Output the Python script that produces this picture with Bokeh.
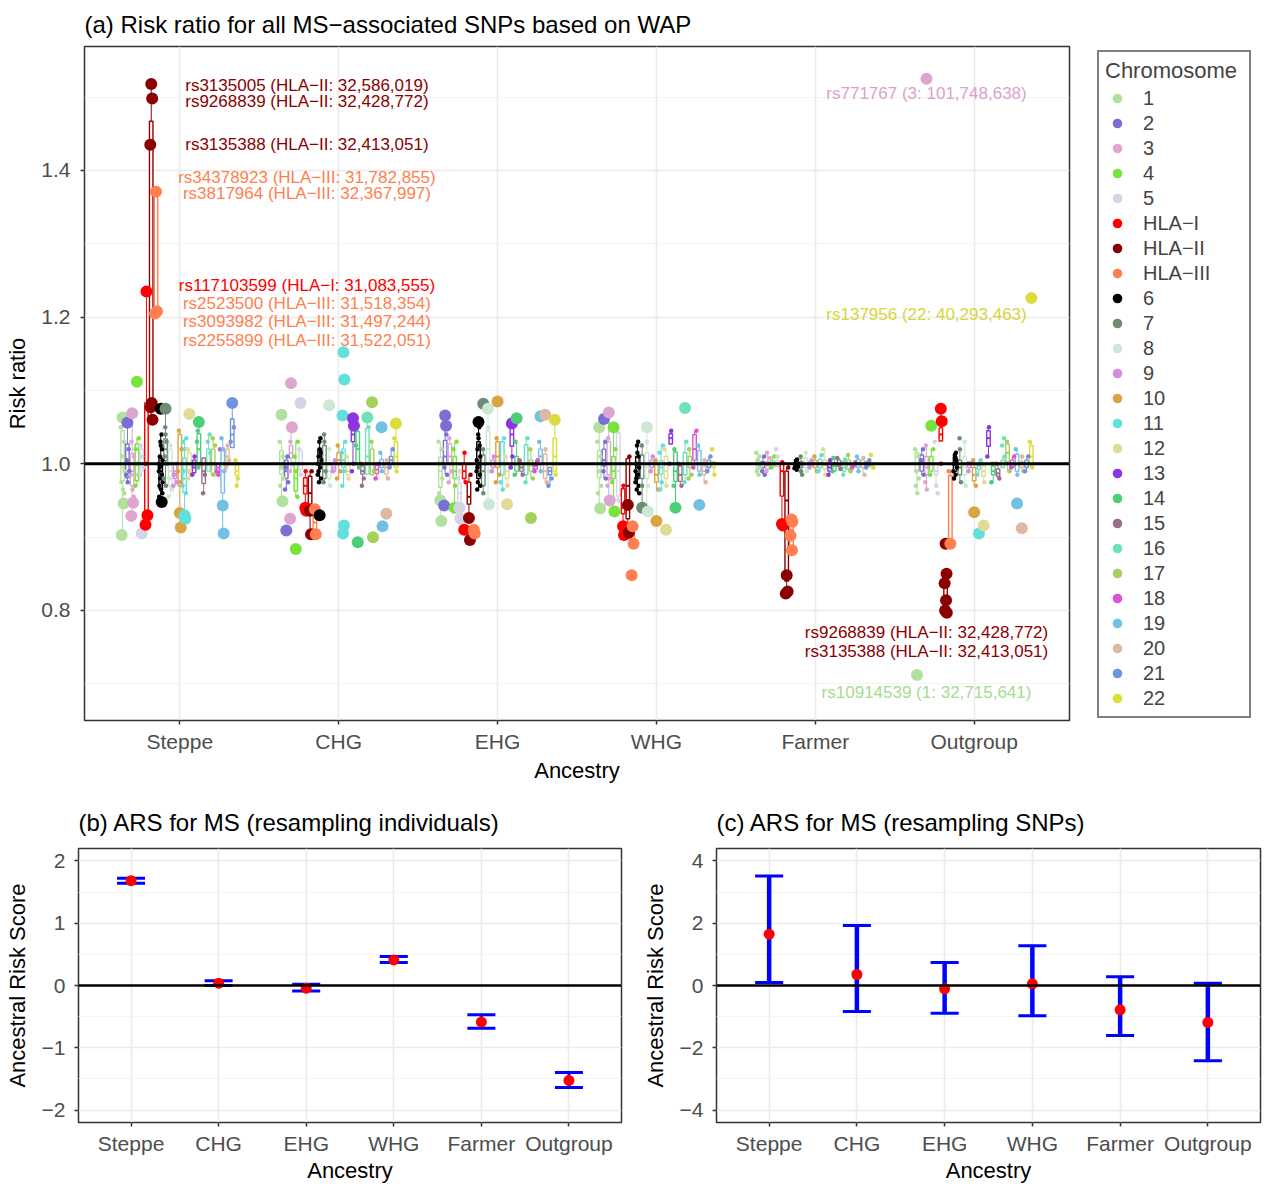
from bokeh.plotting import figure
from bokeh.models import (ColumnDataSource, Legend, LegendItem, FixedTicker,
                          Span, Range1d)
from bokeh.layouts import column, row
from bokeh.embed import file_html
from bokeh.resources import INLINE
from bokeh.core.properties import value

FONT = "Liberation Sans"

# ---------------------------------------------------------------- data
ANCESTRIES = ["Steppe", "CHG", "EHG", "WHG", "Farmer", "Outgroup"]

CHROM_GROUPS = ["1", "2", "3", "4", "5", "HLA\u2212I", "HLA\u2212II", "HLA\u2212III",
                "6", "7", "8", "9", "10", "11", "12", "13", "14", "15", "16",
                "17", "18", "19", "20", "21", "22"]

CHROM_COLORS = ["#b2e09e", "#7b6fd6", "#dda6cf", "#77e33d", "#d4d4e6",
                "#ff0000", "#8b0000", "#ff7f50", "#000000", "#6e8b76",
                "#cce8d4", "#d88be0", "#d9a441", "#63e0dc", "#e0dc98",
                "#8c35e0", "#4ccf76", "#9b6f8a", "#6ee0bb", "#a3d15a",
                "#de52d9", "#72c1e4", "#dfb8a2", "#6f94df", "#dcdc3c"]

# per-ancestry boxplot quartiles (q1, median, q3), one tuple per chromosome group
RR_BOX = {
    "Steppe": [(0.977, 0.995, 1.045), (0.981, 1.0, 1.027), (0.970, 0.99, 1.014),
               (0.977, 1.0, 1.027), (0.99, 1.0, 1.02), (0.933, 1.0, 1.083),
               (1.075, 1.435, 1.467), (1.205, 1.21, 1.37), (0.966, 0.99, 1.008),
               (1.004, 1.02, 1.034), (0.97, 0.99, 1.02), (0.98, 0.99, 1.0),
               (0.97, 1.0, 1.04), (0.961, 0.98, 1.008), (0.987, 1.0, 1.015),
               (0.988, 0.995, 1.005), (1.001, 1.02, 1.041), (0.973, 0.99, 1.008),
               (0.99, 1.0, 1.02), (0.985, 1.0, 1.02), (0.988, 0.995, 1.0),
               (0.96, 0.99, 1.02), (0.998, 1.01, 1.02), (1.022, 1.04, 1.061),
               (0.984, 0.99, 0.998)],
    "CHG": [(0.986, 1.0, 1.018), (0.98, 0.99, 1.005), (1.008, 1.015, 1.025),
            (0.963, 0.98, 1.0), (0.992, 1.0, 1.018), (0.959, 0.97, 0.981),
            (0.945, 0.96, 0.983), (0.904, 0.92, 0.936), (0.999, 1.01, 1.02),
            (0.98, 1.0, 1.025), (0.98, 0.99, 1.0), (0.99, 0.995, 1.0),
            (1.0, 1.005, 1.015), (0.995, 1.005, 1.02), (0.985, 0.99, 0.998),
            (1.03, 1.04, 1.05), (1.0, 1.02, 1.044), (0.986, 0.99, 0.997),
            (0.986, 1.01, 1.048), (0.985, 1.0, 1.02), (0.987, 0.992, 0.998),
            (0.995, 1.0, 1.006), (0.986, 0.995, 1.0), (1.0, 1.005, 1.01),
            (0.995, 1.01, 1.03)],
    "EHG": [(0.968, 0.99, 1.009), (1.0, 1.01, 1.032), (1.0, 1.01, 1.027),
            (0.98, 0.99, 1.01), (0.94, 0.96, 0.974), (0.98, 0.99, 1.0),
            (0.945, 0.955, 0.975), (0.905, 0.907, 0.91), (0.98, 1.0, 1.03),
            (0.97, 0.99, 1.012), (1.0, 1.02, 1.045), (0.995, 1.0, 1.005),
            (0.995, 1.01, 1.03), (0.985, 1.0, 1.03), (0.98, 0.99, 1.0),
            (1.024, 1.04, 1.052), (0.99, 1.0, 1.01), (0.99, 0.995, 1.0),
            (0.985, 1.0, 1.026), (0.99, 0.998, 1.005), (0.993, 0.997, 1.0),
            (1.0, 1.01, 1.02), (0.98, 0.99, 1.013), (0.985, 0.99, 0.995),
            (0.99, 1.01, 1.035)],
    "WHG": [(0.981, 1.0, 1.018), (0.997, 1.005, 1.02), (0.985, 1.0, 1.03),
            (0.98, 0.99, 1.01), (0.956, 0.99, 1.042), (0.932, 0.94, 0.966),
            (0.925, 0.97, 1.007), (0.89, 0.91, 0.915), (0.98, 0.995, 1.01),
            (0.98, 1.0, 1.012), (0.98, 0.995, 1.015), (0.995, 1.0, 1.005),
            (0.975, 0.985, 1.0), (0.986, 0.995, 1.004), (0.98, 0.99, 1.01),
            (1.027, 1.035, 1.041), (0.976, 0.99, 1.016), (0.976, 0.985, 0.997),
            (0.985, 1.0, 1.015), (0.995, 1.0, 1.01), (1.005, 1.02, 1.04),
            (0.99, 1.0, 1.018), (0.985, 0.99, 0.997), (0.995, 1.0, 1.005),
            (0.995, 1.0, 1.003)],
    "Farmer": [(0.993, 0.998, 1.005), (0.995, 1.0, 1.003), (0.993, 0.998, 1.003),
               (0.996, 1.0, 1.004), (0.996, 1.0, 1.004), (0.956, 0.99, 1.0),
               (0.84, 0.95, 0.99), (0.88, 0.91, 0.925), (0.996, 1.0, 1.003),
               (0.995, 0.998, 1.003), (0.995, 1.0, 1.008), (0.997, 1.0, 1.003),
               (0.995, 1.0, 1.005), (0.995, 1.0, 1.006), (0.993, 0.998, 1.005),
               (0.99, 0.995, 1.0), (0.99, 0.997, 1.002), (0.997, 1.0, 1.005),
               (0.99, 0.995, 1.003), (0.993, 1.0, 1.005), (0.996, 0.998, 1.0),
               (0.995, 1.0, 1.006), (0.995, 1.0, 1.005), (0.997, 1.0, 1.003),
               (0.995, 0.998, 1.0)],
    "Outgroup": [(0.99, 1.0, 1.015), (0.99, 1.0, 1.012), (0.985, 0.995, 1.01),
                 (0.99, 1.0, 1.01), (0.985, 0.99, 1.0), (1.031, 1.04, 1.049),
                 (0.804, 0.815, 0.837), (0.891, 0.895, 0.984), (0.99, 1.0, 1.01),
                 (0.985, 0.995, 1.005), (0.985, 0.995, 1.01), (0.995, 1.0, 1.003),
                 (0.977, 0.985, 0.995), (0.993, 0.997, 1.0), (0.983, 0.99, 0.997),
                 (1.024, 1.035, 1.045), (0.985, 0.99, 0.997), (0.983, 0.987, 0.993),
                 (0.995, 1.0, 1.005), (1.003, 1.015, 1.027), (0.995, 1.0, 1.005),
                 (0.99, 1.0, 1.013), (0.995, 1.0, 1.003), (0.995, 1.0, 1.005),
                 (0.998, 1.01, 1.025)],
}

# SNPs with a strong effect (drawn large), per chromosome group
RR_STRONG = {
    "Steppe": [[1.063, 0.946, 0.903], [1.056], [1.069, 0.947, 0.929], [1.112], [0.905],
               [1.235, 0.930, 0.917], [1.518, 1.498, 1.435, 1.083, 1.077, 1.06],
               [1.371, 1.208, 1.205], [1.075, 0.948], [1.075], [], [],
               [0.933, 0.913], [0.930, 0.925], [1.068], [], [1.057], [], [], [],
               [], [0.943, 0.905], [], [1.083], []],
    "CHG": [[1.067, 0.949], [0.909], [1.11, 1.05, 0.925], [0.884], [1.083],
            [0.940, 0.936], [0.936, 0.904], [0.938, 0.904], [0.930], [], [1.080],
            [], [], [1.152, 1.115, 1.066, 0.916, 0.905], [], [1.062, 1.052],
            [0.893], [], [1.063], [1.084, 0.900], [], [1.050, 0.915], [0.932],
            [], [1.055]],
    "EHG": [[0.950, 0.922], [1.066, 1.052, 0.943], [], [0.940], [0.940, 0.925],
            [0.910], [0.926, 0.896], [0.910, 0.905], [1.057], [1.082],
            [1.075, 0.945], [], [1.085], [], [0.945], [1.055], [1.062], [], [],
            [0.926], [], [1.065], [1.067], [], [1.060]],
    "WHG": [[1.050, 0.939], [1.061], [1.070, 0.950], [1.050, 0.935], [],
            [0.915, 0.903], [0.944, 0.906], [0.915, 0.891, 0.848], [], [0.940],
            [1.050, 0.935], [], [0.922], [], [0.910], [], [0.940], [], [1.076],
            [], [], [0.944], [], [], []],
    "Farmer": [[], [], [], [], [], [0.918, 0.916], [0.848, 0.826, 0.823],
               [0.924, 0.921, 0.902, 0.882], [], [], [], [], [], [], [], [], [],
               [], [], [], [], [], [], [], []],
    "Outgroup": [[0.712], [], [1.525], [1.052], [], [1.075, 1.058],
                 [0.891, 0.850, 0.837, 0.814, 0.800, 0.797], [0.891], [], [], [],
                 [], [0.934], [0.905], [0.916], [], [], [], [], [], [], [0.946],
                 [0.912], [], [1.226]],
}

# remaining SNPs (drawn small), per chromosome group
RR_OTHER = {
    "Steppe": [[1.05, 1.03, 1.01, 0.99, 0.975, 0.965, 0.96], [1.02, 1.005, 0.99, 0.985, 0.975],
               [1.03, 1.01, 0.985, 0.965, 0.955], [1.035, 1.02, 1.0, 0.985, 0.97],
               [1.025, 1.01, 0.995, 0.985], [1.0, 1.08], [], [],
               [1.04, 1.03, 1.025, 1.02, 1.01, 1.005, 1.0, 0.998, 0.995, 0.99, 0.985,
                0.98, 0.975, 0.97, 0.965, 0.96, 0.955],
               [1.05, 1.04, 1.03, 1.01, 1.0, 0.98, 0.97], [1.025, 1.0, 0.98, 0.965, 0.955],
               [1.0, 0.985, 0.975, 0.97], [1.045, 1.02, 0.99, 0.975],
               [1.035, 1.03, 1.02, 0.99, 0.97, 0.96], [1.02, 0.99, 0.98],
               [1.01, 1.0, 0.985], [1.045, 1.03, 1.0, 0.995], [1.0, 0.985, 0.96],
               [1.04, 1.03, 1.015, 1.0], [1.035, 1.025, 1.0, 0.985], [1.02, 0.99, 0.985],
               [1.035, 1.02, 0.99], [1.025, 1.005, 0.995], [1.05, 1.03], [1.005, 0.98, 0.97]],
    "CHG": [[1.03, 1.01, 0.995, 0.98, 0.97], [1.01, 0.995, 0.975, 0.965], [1.03, 1.0, 0.99],
            [1.03, 1.01, 0.99, 0.955], [1.02, 0.985], [0.99], [0.99], [],
            [1.035, 1.03, 1.02, 1.015, 1.01, 1.005, 1.0, 0.995, 0.99, 0.985, 0.98, 0.975],
            [1.04, 1.03, 0.99, 0.975], [1.02, 0.97], [1.005, 0.99], [1.025, 0.99, 0.98],
            [1.03, 1.015, 0.99, 0.97], [1.01, 0.98], [1.0, 0.99], [1.05, 1.025, 0.995],
            [1.0, 0.98, 0.97], [1.05, 1.0], [1.03, 0.99], [1.0, 0.98], [1.015, 0.99],
            [1.005, 0.98], [1.02, 0.995], [1.035, 0.99]],
    "EHG": [[1.03, 1.02, 1.0, 0.98, 0.96], [1.04, 0.995, 0.985], [1.035, 0.99, 0.975],
            [1.03, 1.02, 0.97], [0.98, 0.99], [1.015, 0.975], [0.985], [],
            [1.05, 1.04, 1.035, 1.025, 1.02, 1.01, 1.005, 1.0, 0.995, 0.99, 0.985,
             0.975, 0.97, 0.965],
            [1.02, 0.96], [1.05, 0.99], [1.01, 0.99], [1.035, 0.985, 0.975],
            [1.035, 0.975, 0.965], [1.01, 0.97], [1.01, 0.995], [1.03, 0.985],
            [1.005, 0.985], [1.035, 0.975], [1.02, 0.98], [1.005, 0.99], [1.03, 0.99],
            [1.02, 0.975], [0.98, 0.97], [1.0, 0.985]],
    "WHG": [[1.03, 1.01, 0.99, 0.97, 0.96], [1.03, 0.99, 0.98], [1.035, 0.98, 0.97],
            [1.02, 0.975], [1.045, 0.95], [0.97], [1.01], [],
            [1.03, 1.025, 1.015, 1.01, 1.0, 0.995, 0.99, 0.985, 0.98, 0.975, 0.97,
             0.965, 0.96],
            [1.025, 0.97], [1.03, 0.97], [1.01, 0.99], [1.005, 0.965],
            [1.025, 1.015, 0.975, 0.965], [1.02, 0.97], [1.045, 1.0], [1.02, 0.97],
            [1.0, 0.97], [1.03, 0.975], [1.02, 0.985, 0.98], [1.045, 0.995],
            [1.025, 0.985], [1.005, 0.975], [1.01, 0.99], [1.02, 0.985]],
    "Farmer": [[1.015, 1.01, 1.005, 0.995, 0.99, 0.985], [1.01, 0.99, 0.985],
               [1.015, 1.008, 0.99], [1.01, 0.995], [1.02, 1.01], [1.002], [0.995], [],
               [1.006, 1.004, 1.002, 1.0, 0.998, 0.996, 0.994, 0.992],
               [1.01, 0.99, 0.985], [1.015, 0.99], [1.005, 0.995], [1.01, 0.99],
               [1.012, 0.99], [1.02, 0.985], [1.005, 0.985], [1.008, 0.99],
               [1.008, 0.993], [1.006, 0.985], [1.012, 0.99], [1.002, 0.995],
               [1.01, 0.99], [1.008, 0.985], [1.005, 0.995], [1.012, 0.995]],
    "Outgroup": [[1.02, 1.01, 0.99, 0.98, 0.97, 0.96], [1.02, 1.005, 0.985],
                 [1.025, 1.0, 0.975, 0.965], [1.02, 0.985], [1.03, 0.97, 0.96], [1.0],
                 [], [0.99],
                 [1.015, 1.012, 1.008, 1.005, 1.0, 0.995, 0.99, 0.985, 0.98],
                 [1.035, 1.02, 0.975], [1.03, 0.97], [1.0, 0.99], [1.005, 0.97],
                 [1.005, 0.985], [1.0, 0.975], [1.05, 1.01], [1.0, 0.975], [1.0, 0.98],
                 [1.035, 1.025, 1.01], [1.03, 0.99], [1.01, 0.995], [1.02, 0.985],
                 [1.01, 0.99], [1.01, 0.99], [1.03, 0.995]],
}

# labelled SNPs: text, colour group, label anchor (ancestry axis position, RR)
SNP_LABELS = ["rs3135005 (HLA\u2212II: 32,586,019)", "rs9268839 (HLA\u2212II: 32,428,772)",
              "rs3135388 (HLA\u2212II: 32,413,051)", "rs34378923 (HLA\u2212III: 31,782,855)",
              "rs3817964 (HLA\u2212III: 32,367,997)", "rs117103599 (HLA\u2212I: 31,083,555)",
              "rs2523500 (HLA\u2212III: 31,518,354)", "rs3093982 (HLA\u2212III: 31,497,244)",
              "rs2255899 (HLA\u2212III: 31,522,051)", "rs771767 (3: 101,748,638)",
              "rs137956 (22: 40,293,463)", "rs9268839 (HLA\u2212II: 32,428,772)",
              "rs3135388 (HLA\u2212II: 32,413,051)", "rs10914539 (1: 32,715,641)"]
SNP_LABEL_GROUP = ["HLA\u2212II", "HLA\u2212II", "HLA\u2212II", "HLA\u2212III", "HLA\u2212III",
                   "HLA\u2212I", "HLA\u2212III", "HLA\u2212III", "HLA\u2212III", "3", "22",
                   "HLA\u2212II", "HLA\u2212II", "1"]
SNP_LABEL_X = [1.80] * 9 + [5.70] * 5
SNP_LABEL_Y = [1.5156, 1.4939, 1.4354, 1.3905, 1.3687, 1.2435, 1.2190, 1.1946,
               1.1687, 1.5048, 1.2041, 0.7701, 0.7442, 0.6884]

# ancestral risk scores with 95% intervals
ARS_IND_MEAN = [1.684, 0.037, -0.043, 0.410, -0.588, -1.524]
ARS_IND_LO = [1.642, 0.000, -0.090, 0.369, -0.685, -1.636]
ARS_IND_HI = [1.722, 0.075, 0.021, 0.465, -0.470, -1.396]

ARS_SNP_MEAN = [1.647, 0.353, -0.107, 0.053, -0.780, -1.187]
ARS_SNP_LO = [0.096, -0.834, -0.888, -0.973, -1.604, -2.417]
ARS_SNP_HI = [3.520, 1.925, 0.738, 1.273, 0.278, 0.075]

# ---------------------------------------------------------------- styling helpers
TICK_GREY = "#4d4d4d"
GRID = "#ebebeb"
MINOR_GRID = "#f3f3f3"
ANC_LABELS = {i + 1: a for i, a in enumerate(ANCESTRIES)}


def style_axes(p, ylabel, xlabel="Ancestry", ylab_standoff=8, ytick_standoff=9,
               xtick_standoff=5, xlab_standoff=3, title_standoff=18):
    p.outline_line_color = "#333333"
    p.outline_line_width = 1.5
    p.background_fill_color = "white"
    p.border_fill_color = "white"
    for ax in (p.xaxis[0], p.yaxis[0]):
        ax.axis_line_color = None
        ax.major_tick_line_color = "#333333"
        ax.major_tick_line_width = 1.5
        ax.major_tick_out = 4
        ax.major_tick_in = 0
        ax.minor_tick_line_color = None
        ax.major_label_text_font = FONT
        ax.major_label_text_font_size = "21px"
        ax.major_label_text_color = TICK_GREY
        ax.axis_label_text_font = FONT
        ax.axis_label_text_font_size = "22px"
        ax.axis_label_text_font_style = "normal"
        ax.axis_label_text_color = "black"
    p.xaxis[0].axis_label = xlabel
    p.yaxis[0].axis_label = ylabel
    p.yaxis[0].axis_label_standoff = ylab_standoff
    p.yaxis[0].major_label_standoff = ytick_standoff
    p.xaxis[0].major_label_standoff = xtick_standoff
    p.xaxis[0].axis_label_standoff = xlab_standoff
    p.xaxis[0].ticker = FixedTicker(ticks=list(range(1, 7)))
    p.xaxis[0].major_label_overrides = ANC_LABELS
    p.xgrid.grid_line_color = GRID
    p.xgrid.grid_line_width = 1.6
    p.ygrid.grid_line_color = GRID
    p.ygrid.grid_line_width = 1.6
    p.ygrid.minor_grid_line_color = MINOR_GRID
    p.ygrid.minor_grid_line_width = 1.0
    p.title.text_font = FONT
    p.title.text_font_size = "24px"
    p.title.text_font_style = "normal"
    p.title.text_color = "black"
    p.title.standoff = title_standoff


# ---------------------------------------------------------------- (a) risk ratios
pa = figure(width=1090, height=790, x_range=Range1d(0.4, 6.6),
            y_range=Range1d(0.65, 1.569), output_backend="svg",
            toolbar_location=None, min_border_left=84, min_border_right=21,
            min_border_top=45, min_border_bottom=70,
            title="(a) Risk ratio for all MS\u2212associated SNPs based on WAP")
style_axes(pa, "Risk ratio", ylab_standoff=8, ytick_standoff=10,
           xtick_standoff=5, xlab_standoff=2, title_standoff=17)
pa.yaxis[0].ticker = FixedTicker(ticks=[0.8, 1.0, 1.2, 1.4],
                                 minor_ticks=[0.7, 0.9, 1.1, 1.3, 1.5])
pa.yaxis[0].major_label_overrides = {0.8: "0.8", 1.0: "1.0", 1.2: "1.2", 1.4: "1.4"}

DODGE = 0.75
SLOT = DODGE / len(CHROM_GROUPS)
BOX_HALF = 0.011
SMALL_JIT = [-0.012, 0.008, -0.004, 0.012, -0.008, 0.002, 0.010, -0.010, 0.005,
             -0.002, 0.0, 0.007, -0.006, 0.011, -0.011, 0.003, -0.007]
BIG_JIT = [0.0, 0.006, -0.006, 0.003, -0.003, 0.008]

box_srcs, small_srcs, big_srcs = [], [], []
for gi, grp in enumerate(CHROM_GROUPS):
    off = -DODGE / 2 + (gi + 0.5) * SLOT
    bx = dict(left=[], right=[], x=[], q1=[], med=[], q3=[], lo=[], hi=[])
    sx = dict(x=[], y=[])
    gx = dict(x=[], y=[])
    for ai, anc in enumerate(ANCESTRIES):
        xc = ai + 1 + off
        q1, med, q3 = RR_BOX[anc][gi]
        strong = RR_STRONG[anc][gi]
        other = RR_OTHER[anc][gi]
        allv = strong + other
        iqr = q3 - q1
        inside = [v for v in allv if q1 - 1.5 * iqr <= v <= q3 + 1.5 * iqr]
        lo = min(inside + [q1])
        hi = max(inside + [q3])
        bx["left"].append(xc - BOX_HALF)
        bx["right"].append(xc + BOX_HALF)
        bx["x"].append(xc)
        bx["q1"].append(q1)
        bx["med"].append(med)
        bx["q3"].append(q3)
        bx["lo"].append(lo)
        bx["hi"].append(hi)
        for k, v in enumerate(other):
            sx["x"].append(xc + SMALL_JIT[(k + gi) % len(SMALL_JIT)])
            sx["y"].append(v)
        for k, v in enumerate(strong):
            gx["x"].append(xc + BIG_JIT[k % len(BIG_JIT)])
            gx["y"].append(v)
    box_srcs.append(ColumnDataSource(bx))
    small_srcs.append(ColumnDataSource(sx))
    big_srcs.append(ColumnDataSource(gx))

# boxes (whiskers, box, median)
for gi, src in enumerate(box_srcs):
    col = CHROM_COLORS[gi]
    pa.segment(x0="x", y0="q3", x1="x", y1="hi", source=src, line_color=col, line_width=1)
    pa.segment(x0="x", y0="lo", x1="x", y1="q1", source=src, line_color=col, line_width=1)
    pa.quad(left="left", right="right", bottom="q1", top="q3", source=src,
            fill_color="white", line_color=col, line_width=1.4)
    pa.segment(x0="left", y0="med", x1="right", y1="med", source=src,
               line_color=col, line_width=2)

pa.add_layout(Span(location=1.0, dimension="width", line_color="black", line_width=3))

for gi, src in enumerate(small_srcs):
    pa.scatter(x="x", y="y", source=src, size=4.5, fill_color=CHROM_COLORS[gi],
               line_color=None)
for gi, src in enumerate(big_srcs):
    pa.scatter(x="x", y="y", source=src, size=12, fill_color=CHROM_COLORS[gi],
               line_color=None)

label_colors = []
for g in SNP_LABEL_GROUP:
    c = CHROM_COLORS[CHROM_GROUPS.index(g)]
    label_colors.append({"#b2e09e": "#a6db92", "#dda6cf": "#dba0cc",
                         "#dcdc3c": "#d6d63a"}.get(c, c))
lab_src = ColumnDataSource(dict(x=SNP_LABEL_X, y=SNP_LABEL_Y, text=SNP_LABELS,
                                color=label_colors))
pa.text(x="x", y="y", text="text", source=lab_src, text_color="color",
        text_font=value(FONT), text_font_size=value("17px"), text_align="center",
        text_baseline="middle")

# ---------------------------------------------------------------- chromosome key
# a slim companion plot that only carries the key; its renderers share the
# point sources of panel (a) but the view range keeps them out of sight
pkey = figure(width=175, height=790, x_range=Range1d(100, 101), y_range=Range1d(100, 101),
              output_backend="svg", toolbar_location=None, min_border=0,
              x_axis_location=None, y_axis_location=None)
pkey.grid.visible = False
pkey.outline_line_color = None
pkey.background_fill_color = "white"
pkey.border_fill_color = "white"
key_renderers = [pkey.scatter(x="x", y="y", source=small_srcs[gi], size=4.5,
                              fill_color=CHROM_COLORS[gi], line_color=None)
                 for gi in range(len(CHROM_GROUPS))]
legend = Legend(
    items=[LegendItem(label=g, renderers=[key_renderers[i]])
           for i, g in enumerate(CHROM_GROUPS)],
    title="Chromosome", title_text_font=FONT, title_text_font_size="22px",
    title_text_font_style="normal", title_standoff=2,
    label_text_font=FONT, label_text_font_size="20px",
    glyph_width=24, glyph_height=24, label_height=24, label_width=100,
    label_standoff=14, spacing=1, padding=6, margin=0,
    border_line_color="black", border_line_width=2.5,
    location=(7, 2), background_fill_alpha=1.0)
pkey.add_layout(legend)

# ---------------------------------------------------------------- (b), (c) ARS


def ars_panel(title, mean, lo, hi, yr, ticks, minor, width, left, right, bar_w):
    p = figure(width=width, height=395, x_range=Range1d(0.4, 6.6),
               y_range=Range1d(-yr, yr), output_backend="svg",
               toolbar_location=None, min_border_left=left, min_border_right=right,
               min_border_top=58, min_border_bottom=61, title=title)
    style_axes(p, "Ancestral Risk Score", ylab_standoff=9, ytick_standoff=9,
               xtick_standoff=5, xlab_standoff=0, title_standoff=25)
    p.yaxis[0].ticker = FixedTicker(ticks=ticks, minor_ticks=minor)
    p.yaxis[0].major_label_overrides = {t: (str(t) if t >= 0 else "\u2212" + str(-t))
                                        for t in ticks}
    x = list(range(1, 7))
    src = ColumnDataSource(dict(x=x, mean=mean, lo=lo, hi=hi,
                                cl=[v - 0.16 for v in x], cr=[v + 0.16 for v in x]))
    p.add_layout(Span(location=0, dimension="width", line_color="black", line_width=2.5))
    p.segment(x0="x", y0="lo", x1="x", y1="hi", source=src, line_color="#0000ff",
              line_width=bar_w)
    p.segment(x0="cl", y0="lo", x1="cr", y1="lo", source=src, line_color="#0000ff",
              line_width=3)
    p.segment(x0="cl", y0="hi", x1="cr", y1="hi", source=src, line_color="#0000ff",
              line_width=3)
    p.scatter(x="x", y="mean", source=src, size=11, fill_color="#ff0000",
              line_color=None)
    return p


pb = ars_panel("(b) ARS for MS (resampling individuals)", ARS_IND_MEAN, ARS_IND_LO,
               ARS_IND_HI, 2.2, [-2, -1, 0, 1, 2], [-1.5, -0.5, 0.5, 1.5],
               633, 78, 12, 3)
pc = ars_panel("(c) ARS for MS (resampling SNPs)", ARS_SNP_MEAN, ARS_SNP_LO,
               ARS_SNP_HI, 4.4, [-4, -2, 0, 2, 4], [-3, -1, 1, 3],
               632, 83, 5, 4.5)

layout = column(row(pa, pkey), row(pb, pc))
open("out.html", "w").write(file_html(layout, INLINE))
